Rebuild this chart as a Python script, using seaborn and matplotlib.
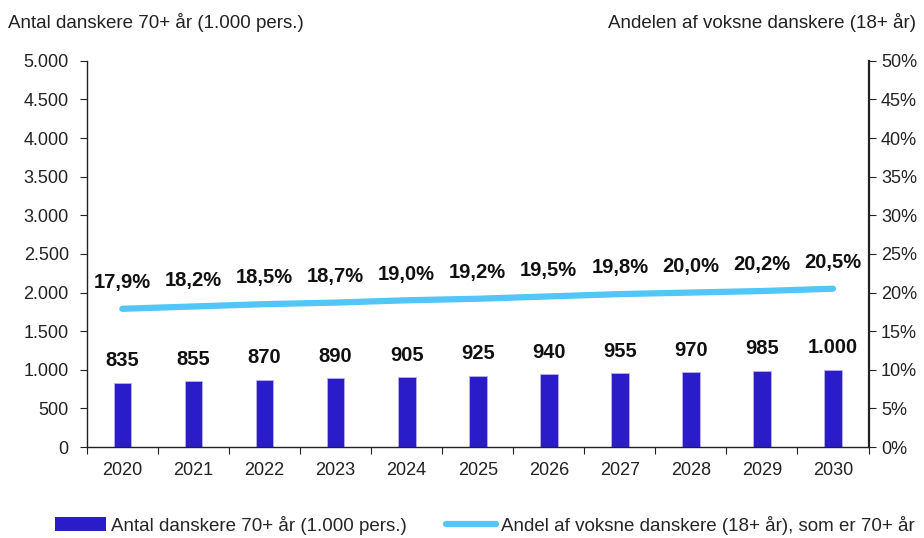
import numpy as np
import pandas as pd
import matplotlib.pyplot as plt
import seaborn as sns
from matplotlib.lines import Line2D
from matplotlib.patches import Patch
from matplotlib.ticker import FuncFormatter, FixedLocator

aar = ["2020", "2021", "2022", "2023", "2024", "2025", "2026", "2027", "2028", "2029", "2030"]
antal = [835, 855, 870, 890, 905, 925, 940, 955, 970, 985, 1000]
andel = [17.9, 18.2, 18.5, 18.7, 19.0, 19.2, 19.5, 19.8, 20.0, 20.2, 20.5]

COR_BAR = "#2a1cc8"
COR_LINJE = "#52c6f6"
COR_TEKST = "#111111"

sns.set_style("white")
plt.rcParams["font.family"] = ["Liberation Sans", "DejaVu Sans"]

df = pd.DataFrame({"aar": aar, "antal": antal, "andel": andel})

fig = plt.figure(figsize=(9.24, 5.38), dpi=100)
ax = fig.add_axes([0.094, 0.169, 0.846, 0.718])

sns.barplot(data=df, x="aar", y="antal", ax=ax, color=COR_BAR, width=0.25,
            saturation=1, edgecolor="#b9b3ee", linewidth=0.6)
ax.set_xlim(-0.5, len(aar) - 0.5)
ax.set_ylim(0, 5000)
ax.set_yticks(np.arange(0, 5001, 500))
ax.yaxis.set_major_formatter(FuncFormatter(lambda v, p: f"{int(v):,}".replace(",", ".")))
ax.set_xlabel("")
ax.set_ylabel("")

for i, v in enumerate(antal):
    ax.annotate(f"{v:,}".replace(",", "."), (i, v), xytext=(0, 9),
                textcoords="offset points", ha="center", va="bottom",
                fontsize=14.5, fontweight="bold", color=COR_TEKST)

ax2 = ax.twinx()
sns.lineplot(x=np.arange(len(aar)), y=andel, ax=ax2, color=COR_LINJE,
             linewidth=4.5, solid_capstyle="round")
ax2.set_ylim(0, 50)
ax2.set_yticks(np.arange(0, 51, 5))
ax2.yaxis.set_major_formatter(FuncFormatter(lambda v, p: f"{int(v)}%"))
ax2.set_ylabel("")
for i, v in enumerate(andel):
    ax2.annotate(f"{v:.1f}%".replace(".", ","), (i, v), xytext=(0, 12),
                 textcoords="offset points", ha="center", va="bottom",
                 fontsize=14.5, fontweight="bold", color=COR_TEKST)

for a in (ax, ax2):
    a.spines["top"].set_visible(False)
    for s in ("left", "right", "bottom"):
        a.spines[s].set_color("#222222")
        a.spines[s].set_linewidth(1.0)
ax.spines["right"].set_visible(False)
ax2.spines["left"].set_visible(False)
ax2.spines["bottom"].set_visible(False)
ax2.spines["right"].set_linewidth(1.6)

ax.tick_params(axis="y", direction="out", length=5, width=0.8, pad=8,
               labelsize=13, colors="#222222", left=True)
ax2.tick_params(axis="y", direction="out", length=5, width=0.8, pad=4,
                labelsize=13, colors="#222222", right=True)
ax.tick_params(axis="x", which="major", length=0, pad=11, labelsize=13,
               colors="#222222")
ax.xaxis.set_minor_locator(FixedLocator(np.arange(-0.5, len(aar), 1.0)))
ax.tick_params(axis="x", which="minor", direction="out", length=5, width=0.8,
               bottom=True, color="#222222")

fig.text(0.009, 0.958, "Antal danskere 70+ år (1.000 pers.)", fontsize=13.5,
         color="#222222", va="center", ha="left")
fig.text(0.991, 0.958, "Andelen af voksne danskere (18+ år)", fontsize=13.5,
         color="#222222", va="center", ha="right")

handles = [Patch(facecolor=COR_BAR, edgecolor="none"),
           Line2D([0], [0], color=COR_LINJE, linewidth=4.5, solid_capstyle="round")]
labels = ["Antal danskere 70+ år (1.000 pers.)",
          "Andel af voksne danskere (18+ år), som er 70+ år"]
fig.legend(handles, labels, loc="lower center", bbox_to_anchor=(0.525, -0.025),
           ncol=2, frameon=False, handlelength=2.7, handletextpad=0.25,
           columnspacing=2.1, prop={"size": 13.5})

fig.savefig("out.png", dpi=100)
